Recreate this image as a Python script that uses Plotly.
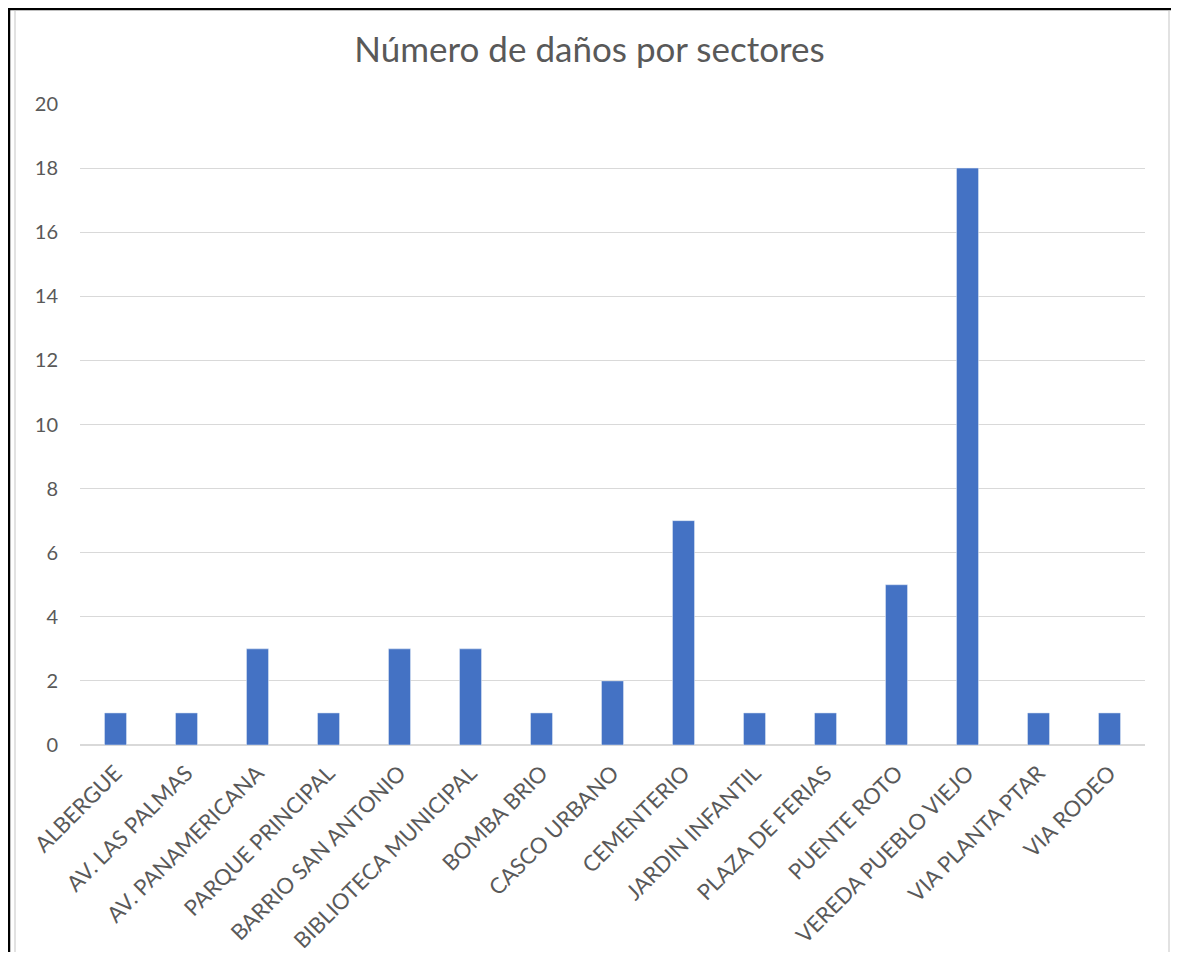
import plotly.graph_objects as go

categories = ["ALBERGUE", "AV. LAS PALMAS", "AV. PANAMERICANA", "PARQUE PRINCIPAL",
              "BARRIO SAN ANTONIO", "BIBLIOTECA MUNICIPAL", "BOMBA BRIO", "CASCO URBANO",
              "CEMENTERIO", "JARDIN INFANTIL", "PLAZA DE FERIAS", "PUENTE ROTO",
              "VEREDA PUEBLO VIEJO", "VIA PLANTA PTAR", "VIA RODEO"]
values = [1, 1, 3, 1, 3, 3, 1, 2, 7, 1, 1, 5, 18, 1, 1]
y_ticks = [0, 2, 4, 6, 8, 10, 12, 14, 16, 18, 20]

OFF = 8  # page body margin
W, H = 1179 - 2 * OFF, 960 - 2 * OFF
L = 80 - OFF
T = 104 - OFF
R = W - (1145 - OFF)
B = H - (745 - OFF)
pw = W - L - R
ph = H - T - B

def px(x):
    return (x - OFF - L) / pw

def py(y):
    return (H - B - (y - OFF)) / ph

fig = go.Figure(go.Bar(x=categories, y=values, marker_color="#4472C4", width=0.31))

grey = "#595959"
fig.update_layout(
    width=W, height=H,
    margin=dict(l=L, r=R, t=T, b=B),
    paper_bgcolor="white", plot_bgcolor="white",
    font=dict(family="Lato, Carlito, Calibri, sans-serif", size=20, color=grey),
    title=dict(text="Número de daños por sectores", x=0.5, xanchor="center",
               y=1 - (50 - OFF) / H, yanchor="middle", font=dict(size=35, color=grey)),
    showlegend=False,
    xaxis=dict(tickangle=-45, showgrid=False, showline=False, ticks="", automargin=False,
               ticklabelstandoff=10, tickfont=dict(size=22, color=grey)),
    yaxis=dict(range=[0, 20], tickvals=y_ticks, showgrid=True, gridcolor="#D9D9D9",
               gridwidth=1, zeroline=True, zerolinecolor="#D9D9D9", zerolinewidth=2,
               showline=False, ticks="", ticklabelstandoff=21, automargin=False,
               tickfont=dict(size=20, color=grey)),
    shapes=[
        dict(type="line", xref="paper", yref="paper", x0=px(9), x1=px(9), y0=py(9), y1=py(960),
             line=dict(color="black", width=2.5)),
        dict(type="line", xref="paper", yref="paper", x0=px(8), x1=px(1171), y0=py(9), y1=py(9),
             line=dict(color="black", width=2.5)),
        dict(type="line", xref="paper", yref="paper", x0=px(15), x1=px(15), y0=py(11), y1=py(960),
             line=dict(color="#D9D9D9", width=1.5)),
        dict(type="line", xref="paper", yref="paper", x0=px(1169), x1=px(1169), y0=py(11), y1=py(960),
             line=dict(color="#D9D9D9", width=1.5)),
    ],
)

fig.write_html("out.html")
